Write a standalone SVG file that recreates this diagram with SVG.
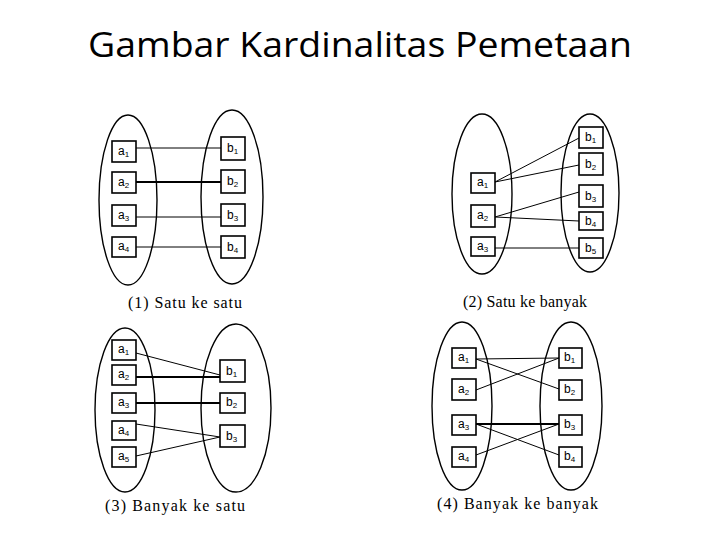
<svg xmlns="http://www.w3.org/2000/svg" width="720" height="540" viewBox="0 0 720 540">
<style>
.bg{fill:#fff}
.title{font-family:"Open Sans","Noto Sans",sans-serif;font-size:35px;fill:#000}
.ell{fill:none;stroke:#000;stroke-width:1.4}
.box{fill:#fff;stroke:#000;stroke-width:1.6}
.lbl{font-family:"Liberation Sans",Arial,sans-serif;font-size:12px;fill:#000}
.sub{font-size:8px}
.cap{font-family:"Liberation Serif","Times New Roman",serif;font-size:16px;fill:#000}
.ln{stroke:#000;stroke-width:1;fill:none}
.thick{stroke:#000;stroke-width:2.2;fill:none}
</style>
<rect class="bg" x="0" y="0" width="720" height="540"/>
<text class="title" x="88" y="57" textLength="544" lengthAdjust="spacingAndGlyphs">Gambar Kardinalitas Pemetaan</text>

<!-- Diagram 1: Satu ke satu -->
<g id="d1">
  <g id="d1-setA"><ellipse class="ell" cx="128" cy="200" rx="29" ry="85"/></g>
  <g id="d1-setB"><ellipse class="ell" cx="232" cy="197" rx="31" ry="87"/></g>
  <g id="d1-connectors">
    <line class="ln" x1="136" y1="148" x2="221" y2="148"/>
    <line class="thick" x1="136" y1="182" x2="221" y2="182"/>
    <line class="ln" x1="136" y1="217" x2="221" y2="217"/>
    <line class="ln" x1="136" y1="247" x2="221" y2="247"/>
  </g>
  <g id="d1-a1"><rect class="box" x="112" y="141" width="24" height="21"/><text class="lbl" x="118" y="155">a<tspan class="sub" dy="2">1</tspan></text></g>
  <g id="d1-a2"><rect class="box" x="112" y="172" width="24" height="21"/><text class="lbl" x="118" y="186">a<tspan class="sub" dy="2">2</tspan></text></g>
  <g id="d1-a3"><rect class="box" x="112" y="205" width="24" height="21"/><text class="lbl" x="118" y="219">a<tspan class="sub" dy="2">3</tspan></text></g>
  <g id="d1-a4"><rect class="box" x="112" y="237" width="24" height="20"/><text class="lbl" x="118" y="250">a<tspan class="sub" dy="2">4</tspan></text></g>
  <g id="d1-b1"><rect class="box" x="221" y="137" width="24" height="23"/><text class="lbl" x="227" y="152">b<tspan class="sub" dy="2">1</tspan></text></g>
  <g id="d1-b2"><rect class="box" x="221" y="170" width="24" height="23"/><text class="lbl" x="227" y="185">b<tspan class="sub" dy="2">2</tspan></text></g>
  <g id="d1-b3"><rect class="box" x="221" y="204" width="24" height="22"/><text class="lbl" x="227" y="219">b<tspan class="sub" dy="2">3</tspan></text></g>
  <g id="d1-b4"><rect class="box" x="221" y="236" width="24" height="22"/><text class="lbl" x="227" y="251">b<tspan class="sub" dy="2">4</tspan></text></g>
  <text class="cap" x="128" y="308" textLength="114" lengthAdjust="spacing">(1) Satu ke satu</text>
</g>

<!-- Diagram 2: Satu ke banyak -->
<g id="d2">
  <g id="d2-setA"><ellipse class="ell" cx="482" cy="194" rx="30" ry="80"/></g>
  <g id="d2-setB"><ellipse class="ell" cx="590" cy="193" rx="29" ry="79"/></g>
  <g id="d2-connectors">
    <line class="ln" x1="495" y1="182" x2="579" y2="138"/>
    <line class="ln" x1="495" y1="182" x2="579" y2="165"/>
    <line class="ln" x1="495" y1="217" x2="579" y2="192"/>
    <line class="ln" x1="495" y1="217" x2="579" y2="221"/>
    <line class="ln" x1="495" y1="248" x2="579" y2="248"/>
  </g>
  <g id="d2-a1"><rect class="box" x="471" y="173" width="24" height="20"/><text class="lbl" x="477" y="186">a<tspan class="sub" dy="2">1</tspan></text></g>
  <g id="d2-a2"><rect class="box" x="471" y="205" width="24" height="22"/><text class="lbl" x="477" y="219">a<tspan class="sub" dy="2">2</tspan></text></g>
  <g id="d2-a3"><rect class="box" x="471" y="237" width="24" height="19"/><text class="lbl" x="477" y="250">a<tspan class="sub" dy="2">3</tspan></text></g>
  <g id="d2-b1"><rect class="box" x="579" y="127" width="24" height="21"/><text class="lbl" x="585" y="141">b<tspan class="sub" dy="2">1</tspan></text></g>
  <g id="d2-b2"><rect class="box" x="579" y="153" width="24" height="22"/><text class="lbl" x="585" y="168">b<tspan class="sub" dy="2">2</tspan></text></g>
  <g id="d2-b3"><rect class="box" x="579" y="185" width="24" height="22"/><text class="lbl" x="585" y="200">b<tspan class="sub" dy="2">3</tspan></text></g>
  <g id="d2-b4"><rect class="box" x="579" y="212" width="24" height="18"/><text class="lbl" x="585" y="225">b<tspan class="sub" dy="2">4</tspan></text></g>
  <g id="d2-b5"><rect class="box" x="579" y="238" width="24" height="20"/><text class="lbl" x="585" y="252">b<tspan class="sub" dy="2">5</tspan></text></g>
  <text class="cap" x="463" y="307" textLength="124" lengthAdjust="spacing">(2) Satu ke banyak</text>
</g>

<!-- Diagram 3: Banyak ke satu -->
<g id="d3">
  <g id="d3-setA"><ellipse class="ell" cx="125" cy="410" rx="30" ry="82"/></g>
  <g id="d3-setB"><ellipse class="ell" cx="236" cy="408" rx="35" ry="84"/></g>
  <g id="d3-connectors">
    <line class="ln" x1="136" y1="353" x2="220" y2="375"/>
    <line class="thick" x1="136" y1="377" x2="220" y2="377"/>
    <line class="thick" x1="136" y1="403" x2="220" y2="403"/>
    <line class="ln" x1="136" y1="424" x2="220" y2="437"/>
    <line class="ln" x1="136" y1="456" x2="220" y2="437"/>
  </g>
  <g id="d3-a1"><rect class="box" x="112" y="340" width="24" height="20"/><text class="lbl" x="118" y="353">a<tspan class="sub" dy="2">1</tspan></text></g>
  <g id="d3-a2"><rect class="box" x="112" y="365" width="24" height="20"/><text class="lbl" x="118" y="378">a<tspan class="sub" dy="2">2</tspan></text></g>
  <g id="d3-a3"><rect class="box" x="112" y="393" width="24" height="20"/><text class="lbl" x="118" y="406">a<tspan class="sub" dy="2">3</tspan></text></g>
  <g id="d3-a4"><rect class="box" x="112" y="421" width="24" height="19"/><text class="lbl" x="118" y="434">a<tspan class="sub" dy="2">4</tspan></text></g>
  <g id="d3-a5"><rect class="box" x="112" y="447" width="24" height="20"/><text class="lbl" x="118" y="460">a<tspan class="sub" dy="2">5</tspan></text></g>
  <g id="d3-b1"><rect class="box" x="220" y="360" width="25" height="22"/><text class="lbl" x="226" y="375">b<tspan class="sub" dy="2">1</tspan></text></g>
  <g id="d3-b2"><rect class="box" x="220" y="393" width="25" height="20"/><text class="lbl" x="226" y="406">b<tspan class="sub" dy="2">2</tspan></text></g>
  <g id="d3-b3"><rect class="box" x="220" y="425" width="25" height="22"/><text class="lbl" x="226" y="440">b<tspan class="sub" dy="2">3</tspan></text></g>
  <text class="cap" x="105" y="511" textLength="140" lengthAdjust="spacing">(3) Banyak ke satu</text>
</g>

<!-- Diagram 4: Banyak ke banyak -->
<g id="d4">
  <g id="d4-setA"><ellipse class="ell" cx="462" cy="406" rx="30" ry="84"/></g>
  <g id="d4-setB"><ellipse class="ell" cx="571" cy="406" rx="31" ry="84"/></g>
  <g id="d4-connectors">
    <line class="ln" x1="476" y1="359" x2="559" y2="358"/>
    <line class="ln" x1="476" y1="359" x2="559" y2="389"/>
    <line class="ln" x1="476" y1="390" x2="559" y2="358"/>
    <line class="thick" x1="476" y1="424" x2="559" y2="424"/>
    <line class="ln" x1="476" y1="424" x2="559" y2="455"/>
    <line class="ln" x1="476" y1="455" x2="559" y2="424"/>
  </g>
  <g id="d4-a1"><rect class="box" x="452" y="348" width="24" height="20"/><text class="lbl" x="458" y="361">a<tspan class="sub" dy="2">1</tspan></text></g>
  <g id="d4-a2"><rect class="box" x="452" y="379" width="24" height="21"/><text class="lbl" x="458" y="393">a<tspan class="sub" dy="2">2</tspan></text></g>
  <g id="d4-a3"><rect class="box" x="452" y="415" width="24" height="20"/><text class="lbl" x="458" y="428">a<tspan class="sub" dy="2">3</tspan></text></g>
  <g id="d4-a4"><rect class="box" x="452" y="447" width="24" height="20"/><text class="lbl" x="458" y="460">a<tspan class="sub" dy="2">4</tspan></text></g>
  <g id="d4-b1"><rect class="box" x="559" y="348" width="23" height="20"/><text class="lbl" x="564" y="361">b<tspan class="sub" dy="2">1</tspan></text></g>
  <g id="d4-b2"><rect class="box" x="559" y="380" width="23" height="20"/><text class="lbl" x="564" y="393">b<tspan class="sub" dy="2">2</tspan></text></g>
  <g id="d4-b3"><rect class="box" x="559" y="415" width="23" height="20"/><text class="lbl" x="564" y="428">b<tspan class="sub" dy="2">3</tspan></text></g>
  <g id="d4-b4"><rect class="box" x="559" y="447" width="23" height="20"/><text class="lbl" x="564" y="460">b<tspan class="sub" dy="2">4</tspan></text></g>
  <text class="cap" x="437" y="509" textLength="161" lengthAdjust="spacing">(4) Banyak ke banyak</text>
</g>
</svg>
